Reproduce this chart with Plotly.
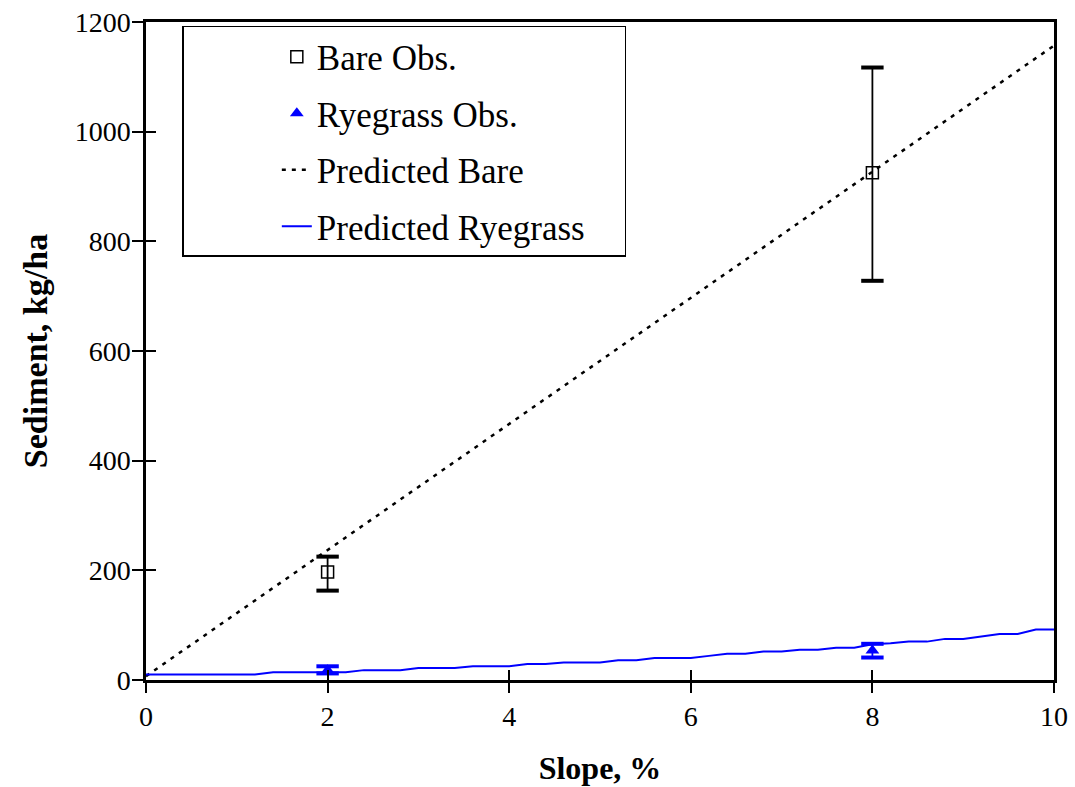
import plotly.graph_objects as go

# ---------------- data ----------------
bare_x = [2, 8]
bare_y = [197, 925]
bare_err_plus = [28, 192]
bare_err_minus = [34, 197]

rye_x = [2, 8]
rye_y = [18, 54]
rye_err_plus = [7, 12]
rye_err_minus = [6, 13]

pred_bare_x = [0, 1, 2, 3, 4, 5, 6, 7, 8, 9, 10]
pred_bare_y = [7, 122, 237, 352, 467, 582, 697, 812, 927, 1042, 1157]

pred_rye_x = [0, 0.2, 0.4, 0.6, 0.8, 1.0, 1.2, 1.4, 1.6, 1.8, 2.0, 2.2, 2.4, 2.6, 2.8,
              3.0, 3.2, 3.4, 3.6, 3.8, 4.0, 4.2, 4.4, 4.6, 4.8, 5.0, 5.2, 5.4, 5.6, 5.8,
              6.0, 6.2, 6.4, 6.6, 6.8, 7.0, 7.2, 7.4, 7.6, 7.8, 8.0, 8.2, 8.4, 8.6, 8.8,
              9.0, 9.2, 9.4, 9.6, 9.8, 10.0]
pred_rye_y = [10, 10, 10, 10, 10, 10, 10, 14, 14, 14, 14, 14, 18, 18, 18,
              22, 22, 22, 25, 25, 25, 29, 29, 32, 32, 32, 36, 36, 40, 40,
              40, 44, 48, 48, 52, 52, 55, 55, 59, 59, 65, 67, 70, 70, 75,
              75, 80, 84, 84, 92, 92]

x_ticks = [0, 2, 4, 6, 8, 10]
y_ticks = [0, 200, 400, 600, 800, 1000, 1200]

FONT = "Liberation Serif"
BLUE = "#0000FF"
PAD = "\u00a0" * 4

fig = go.Figure()

# predicted lines
fig.add_trace(go.Scatter(
    x=pred_bare_x, y=pred_bare_y, mode="lines", name="Predicted Bare",
    line=dict(color="black", width=2.5, dash="4px,6px"), legendgroup="c", legendrank=3))
fig.add_trace(go.Scatter(
    x=pred_rye_x, y=pred_rye_y, mode="lines", name="Predicted Ryegrass" + PAD,
    line=dict(color=BLUE, width=2), legendgroup="d", legendrank=4))

# observations with error stems
fig.add_trace(go.Scatter(
    x=bare_x, y=bare_y, mode="markers", name="Bare Obs.",
    marker=dict(symbol="square-open", size=12, color="black", line=dict(width=1.5)),
    error_y=dict(type="data", symmetric=False, array=bare_err_plus, arrayminus=bare_err_minus,
                 color="black", thickness=1.8, width=0),
    legendgroup="a", legendrank=1))
fig.add_trace(go.Scatter(
    x=rye_x, y=rye_y, mode="markers", name="Ryegrass Obs.",
    marker=dict(symbol="triangle-up", size=12, color=BLUE),
    error_y=dict(type="data", symmetric=False, array=rye_err_plus, arrayminus=rye_err_minus,
                 color=BLUE, thickness=1.8, width=0),
    legendgroup="b", legendrank=2))

# thick error-bar caps
bare_caps_y = [y + p for y, p in zip(bare_y, bare_err_plus)] + [y - m for y, m in zip(bare_y, bare_err_minus)]
rye_caps_y = [y + p for y, p in zip(rye_y, rye_err_plus)] + [y - m for y, m in zip(rye_y, rye_err_minus)]
fig.add_trace(go.Scatter(
    x=bare_x + bare_x, y=bare_caps_y, mode="markers", showlegend=False, hoverinfo="skip",
    marker=dict(symbol="line-ew", size=16, line=dict(color="black", width=4))))
fig.add_trace(go.Scatter(
    x=rye_x + rye_x, y=rye_caps_y, mode="markers", showlegend=False, hoverinfo="skip",
    marker=dict(symbol="line-ew", size=16, line=dict(color=BLUE, width=4))))

# invisible trace to carry the inside half of the cross ticks
fig.add_trace(go.Scatter(x=[0], y=[0], xaxis="x2", yaxis="y2", mode="markers",
                         marker=dict(opacity=0), showlegend=False, hoverinfo="skip"))

fig.update_layout(
    width=1075, height=787,
    margin=dict(l=146, r=21, t=22, b=107, autoexpand=False),
    paper_bgcolor="white", plot_bgcolor="white",
    font=dict(family=FONT, size=28, color="black"),
    showlegend=True,
    legend=dict(
        x=0.04, y=0.994, xanchor="left", yanchor="top",
        bordercolor="black", borderwidth=1.5, bgcolor="white",
        font=dict(family=FONT, size=35, color="black"),
        tracegroupgap=8, indentation=93, traceorder="grouped",
    ),
    xaxis=dict(
        range=[0, 10], tickvals=x_ticks, ticktext=[str(v) for v in x_ticks],
        showgrid=False, zeroline=False, automargin=False,
        showline=True, linecolor="black", linewidth=2.5, mirror=True,
        ticks="outside", ticklen=10, tickwidth=1.5, tickcolor="black",
        tickfont=dict(family=FONT, size=28),
        title=dict(text="<b>Slope, %</b>", font=dict(family=FONT, size=32), standoff=26),
    ),
    yaxis=dict(
        range=[0, 1200], tickvals=y_ticks, ticktext=[str(v) for v in y_ticks],
        showgrid=False, zeroline=False, automargin=False,
        showline=True, linecolor="black", linewidth=2.5, mirror=True,
        ticks="outside", ticklen=11, tickwidth=1.5, tickcolor="black",
        tickfont=dict(family=FONT, size=28), ticklabelstandoff=-4,
        title=dict(text="<b>Sediment, kg/ha</b>", font=dict(family=FONT, size=34), standoff=17),
    ),
    xaxis2=dict(overlaying="x", matches="x", range=[0, 10], tickvals=x_ticks, showticklabels=False,
                ticks="inside", ticklen=10, tickwidth=1.5, tickcolor="black", automargin=False,
                showgrid=False, zeroline=False, showline=False, side="bottom"),
    yaxis2=dict(overlaying="y", matches="y", range=[0, 1200], tickvals=y_ticks, showticklabels=False,
                ticks="inside", ticklen=10, tickwidth=1.5, tickcolor="black", automargin=False,
                showgrid=False, zeroline=False, showline=False, side="left"),
)

fig.write_html("out.html")
